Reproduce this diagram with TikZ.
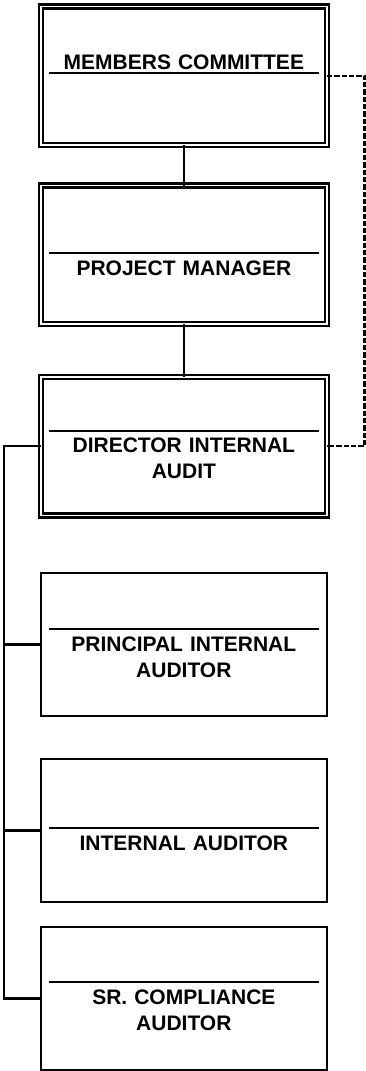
\documentclass[tikz,border=0pt]{standalone}
\usepackage{fontspec}
\setsansfont{Liberation Sans}
\usetikzlibrary{positioning}
\tikzset{
  basic/.style  = {draw, rectangle, outer sep=0pt, line width=2.3pt},
  head/.style   = {basic, double, double distance=1.7pt, minimum width=286.3pt, minimum height=138.5pt},
  staff/.style  = {basic, minimum width=285.7pt, minimum height=143pt},
  jobtitle/.style = {font=\sffamily\bfseries\fontsize{21}{26}\selectfont, text width=270pt,
  align=center, inner xsep=0pt, inner ysep=7.8pt, outer sep=0pt},
  hrule/.style  = {line width=2pt},
  link/.style   = {line width=2.4pt},
  dashlink/.style = {line width=2.4pt, dash pattern=on 5.3pt off 2pt}
}
\begin{document}
\begin{tikzpicture}
\useasboundingbox (0,0) rectangle (366pt,-1071pt);
% the boxes, one below the other
\node [head] (mc) at (183.85pt,-75.85pt) {};
\node [head, below=40.4pt of mc] (pm) {};
\node [head, below=53pt of pm] (dia) {};
\node [staff, below=57.5pt of dia] (pia) {};
\node [staff, below=43pt of pia] (ia) {};
\node [staff, below=25pt of ia] (sca) {};
% titles in the boxes
\node [jobtitle, anchor=south, inner ysep=3pt] (mct) at ([yshift=3.35pt]mc.center) {MEMBERS COMMITTEE};
\node [jobtitle, anchor=north] (pmt) at ([yshift=2pt]pm.center) {PROJECT MANAGER};
\node [jobtitle, anchor=north] (diat) at ([yshift=15.75pt]dia.center) {DIRECTOR INTERNAL\\AUDIT};
\node [jobtitle, anchor=north] (piat) at ([yshift=15.5pt]pia.center) {PRINCIPAL INTERNAL\\AUDITOR};
\node [jobtitle, anchor=north] (iat) at ([yshift=2.5pt]ia.center) {INTERNAL AUDITOR};
\node [jobtitle, anchor=north] (scat) at ([yshift=16.5pt]sca.center) {SR. COMPLIANCE\\AUDITOR};
% rules over the titles
\draw [hrule] (mct.south west) -- (mct.south east);
\foreach \t in {pmt,diat,piat,iat,scat}
  \draw [hrule] (\t.north west) -- (\t.north east);
% main line
\draw [link] (mc) -- (pm);
\draw [link] (pm) -- (dia);
% dashed line on the right
\coordinate [right=37.5pt of mc.east] (loop);
\draw [dashlink] (mc.east) -- (loop) |- (dia.east);
% staff line on the left
\coordinate [left=36.5pt of dia.west] (bus);
\draw [link] (dia.west) -| (bus |- sca.west) -- (sca.west);
\foreach \b in {pia,ia}
  \draw [link] (bus |- \b.west) -- (\b.west);
\end{tikzpicture}
\end{document}
